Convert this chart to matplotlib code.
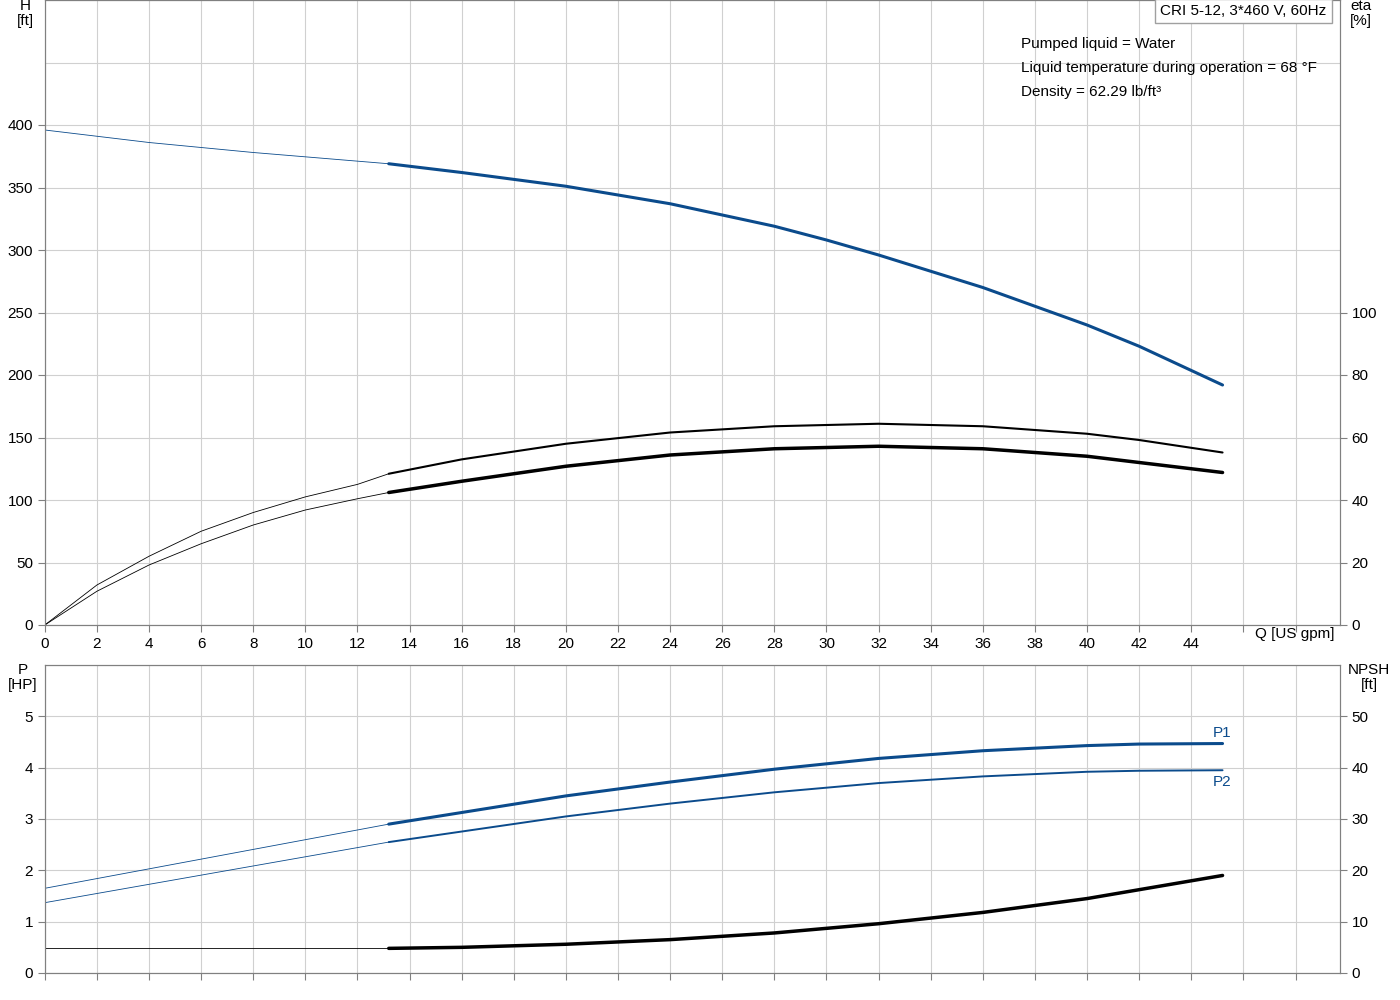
import matplotlib
matplotlib.use("Agg")
import matplotlib.pyplot as plt

q_h = [0, 4, 8, 13.2, 16, 20, 24, 28, 30, 32, 36, 40, 42, 45.2]
h = [396, 386, 378, 369, 362, 351, 337, 319, 308, 296, 270, 240, 223, 192]
q_e = [0, 2, 4, 6, 8, 10, 12, 13.2, 16, 20, 24, 28, 32, 36, 40, 42, 45.2]
eta1 = [0, 12.8, 22, 30, 36, 41, 45, 48.4, 53, 58, 61.6, 63.6, 64.4, 63.6, 61.2, 59.2, 55.2]
eta2 = [0, 10.8, 19.2, 26, 32, 36.8, 40.4, 42.4, 46, 50.8, 54.4, 56.4, 57.2, 56.4, 54, 52, 48.8]
q_p = [0, 13.2, 20, 24, 28, 32, 36, 40, 42, 45.2]
p1 = [1.65, 2.9, 3.45, 3.72, 3.97, 4.18, 4.33, 4.43, 4.46, 4.47]
p2 = [1.37, 2.55, 3.05, 3.3, 3.52, 3.7, 3.83, 3.92, 3.94, 3.95]
q_n = [0, 13.2, 16, 20, 24, 28, 32, 36, 40, 45.2]
npsh = [4.8, 4.8, 5.0, 5.6, 6.5, 7.8, 9.6, 11.8, 14.5, 19]
QS = 13.2
BLUE = "#0b4b8c"

plt.rcParams['font.family'] = ['Arial', 'Liberation Sans', 'DejaVu Sans']
fig = plt.figure(figsize=(14, 10), dpi=100)
ax = fig.add_axes([0.032, 0.375, 0.925, 0.625])
bx = fig.add_axes([0.032, 0.027, 0.925, 0.308])

def split(x, y):
    i = x.index(QS)
    return (x[:i+1], y[:i+1]), (x[i:], y[i:])

def draw(a, x, y, c, lw):
    (a1, b1), (a2, b2) = split(x, y)
    a.plot(a1, b1, color=c, lw=0.6, solid_joinstyle="round")
    a.plot(a2, b2, color=c, lw=lw, solid_joinstyle="round", solid_capstyle="round")

for a, ymax in [(ax, 500), (bx, 6)]:
    a.set_xlim(0, 49.7)
    a.set_ylim(0, ymax)
    a.grid(True, which="both", color="#d0d0d0", lw=0.8)
    for s in a.spines.values():
        s.set_color("#808080")
    a.tick_params(labelsize=11, color="#808080", length=5)
    a.tick_params(which="minor", length=0)

ax.set_xticks(range(0, 50, 2))
ax.set_xticklabels([str(v) if v <= 44 else "" for v in range(0, 50, 2)])
ax.set_yticks(range(0, 401, 50))
ax.set_yticks([450, 500], minor=True)
bx.set_xticks(range(0, 50, 2))
bx.set_xticklabels([])
bx.set_yticks(range(0, 6))
bx.set_yticks([6], minor=True)

draw(ax, q_h, h, BLUE, 2.2)
ae = ax.twinx()
ae.set_ylim(0, 200)
ae.set_yticks(range(0, 101, 20))
ae.tick_params(labelsize=11, color="#808080", length=5)
draw(ae, q_e, eta1, "black", 1.5)
draw(ae, q_e, eta2, "black", 2.5)

draw(bx, q_p, p1, BLUE, 2.2)
draw(bx, q_p, p2, BLUE, 1.4)
bn = bx.twinx()
bn.set_ylim(0, 60)
bn.set_yticks(range(0, 51, 10))
bn.tick_params(labelsize=11, color="#808080", length=5)
draw(bn, q_n, npsh, "black", 2.5)

for a in (ae, bn):
    for s in a.spines.values():
        s.set_color("#808080")

bx.text(45.2, 4.6, "P1", color=BLUE, fontsize=11, ha="center")
bx.text(45.2, 3.65, "P2", color=BLUE, fontsize=11, ha="center")

fig.text(0.925, 0.362, "Q [US gpm]", fontsize=11, ha="center")
fig.text(0.018, 0.975, "H\n[ft]", fontsize=11, ha="center", linespacing=1.1)
fig.text(0.972, 0.975, "eta\n[%]", fontsize=11, ha="center", linespacing=1.1)
fig.text(0.016, 0.311, "P\n[HP]", fontsize=11, ha="center", linespacing=1.1)
fig.text(0.978, 0.311, "NPSH\n[ft]", fontsize=11, ha="center", linespacing=1.1)
fig.text(0.888, 0.989, "CRI 5-12, 3*460 V, 60Hz", fontsize=11, ha="center", va="center",
         bbox=dict(boxstyle="square,pad=0.35", fc="white", ec="#a0a0a0"))
fig.text(0.729, 0.956, "Pumped liquid = Water", fontsize=11, va="center")
fig.text(0.729, 0.932, "Liquid temperature during operation = 68 °F", fontsize=11, va="center")
fig.text(0.729, 0.908, "Density = 62.29 lb/ft³", fontsize=11, va="center")

fig.savefig("out.png", dpi=100)
